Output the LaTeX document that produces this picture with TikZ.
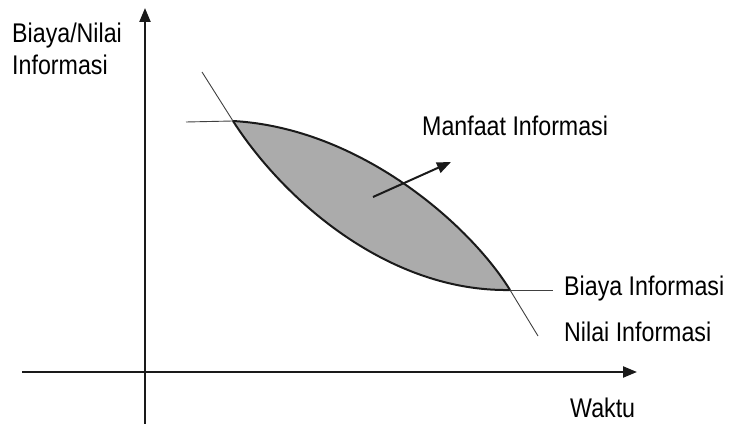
\documentclass[tikz,border=0pt]{standalone}
\usepackage{fontspec}
\setmainfont{Liberation Sans}[FakeStretch=0.86]
\usetikzlibrary{arrows.meta}
\definecolor{lensgray}{HTML}{ABABAB}
\definecolor{inkdark}{HTML}{1A1A1A}
\tikzset{
  axisline/.style={line width=2.2pt, draw=inkdark, -{Triangle[length=14pt,width=11pt]}},
  curveline/.style={line width=2pt, draw=inkdark},
  thinline/.style={line width=0.9pt, draw=black!75},
  lbl/.style={inner sep=0pt, anchor=base west, font=\fontsize{27}{32}\selectfont},
  pointer/.style={line width=2pt, draw=inkdark, -{Triangle[length=14pt,width=11pt]}}
}
\begin{document}
\begin{tikzpicture}[x=1pt,y=-1pt]
\useasboundingbox (0,0) rectangle (734,427);
% axes
\coordinate (ybot) at (145,424);
\coordinate (ytop) at (145,8);
\coordinate (xleft) at (22,372);
\coordinate (xright) at (637,372);
\draw[axisline] (ybot) -- (ytop);
\draw[axisline] (xleft) -- (xright);
% lens
\coordinate (A) at (233,121);
\coordinate (B) at (510,290);
\fill[lensgray] (A) .. controls (360,128) and (470,225) .. (B)
  .. controls (390,292) and (285,202) .. (A) -- cycle;
\draw[curveline] (A) .. controls (360,128) and (470,225) .. (B);
\draw[curveline] (A) .. controls (285,202) and (390,292) .. (B);
% tangent lines
\coordinate (biayaL) at (186,122);
\coordinate (nilaiL) at (202,72);
\coordinate (biayaR) at (553,290);
\coordinate (nilaiR) at (538,336);
\draw[thinline] (biayaL) -- (A);
\draw[thinline] (nilaiL) -- (A);
\draw[thinline] (B) -- (biayaR);
\draw[thinline] (B) -- (nilaiR);
% pointer arrow
\coordinate (pstart) at (373,197);
\coordinate (pend) at (451,162);
\draw[pointer] (pstart) -- (pend);
% labels
\node[lbl] (ylab1) at (12,43) {Biaya/Nilai};
\node[lbl] (ylab2) at (12,75) {Informasi};
\node[lbl] (manfaat) at (422,136) {Manfaat Informasi};
\node[lbl] (biaya) at (564,296) {Biaya Informasi};
\node[lbl] (nilai) at (564,342) {Nilai Informasi};
\node[lbl] (waktu) at (570,418) {Waktu};
\end{tikzpicture}
\end{document}
